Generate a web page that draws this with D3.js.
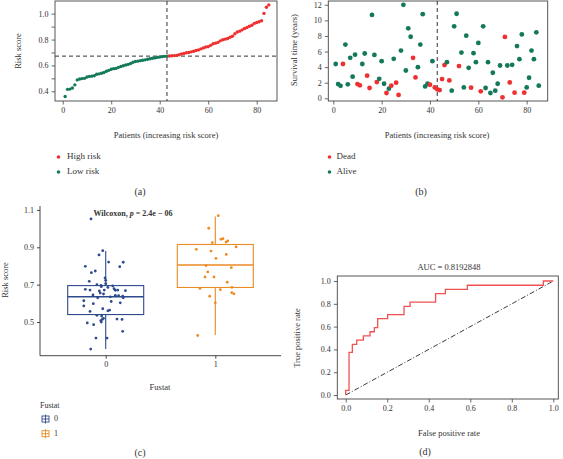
<!DOCTYPE html>
<html><head><meta charset="utf-8">
<script src="https://cdn.jsdelivr.net/npm/d3@7"></script>
<style>
html,body{margin:0;padding:0;background:#fff;}
svg text{font-family:"Liberation Serif","DejaVu Serif",serif;fill:#333;}
</style></head>
<body>
<svg id="c" width="563" height="459"></svg>
<script>
// ---------- DATA ----------
// (a) sorted risk scores, patients 1..85; cutoff after patient 43
const riskScores = [0.360,0.415,0.417,0.425,0.450,0.488,0.495,0.498,0.500,0.510,
0.515,0.517,0.520,0.532,0.535,0.540,0.545,0.555,0.562,0.570,
0.575,0.577,0.585,0.592,0.598,0.603,0.608,0.615,0.625,0.630,
0.633,0.637,0.640,0.643,0.648,0.652,0.655,0.658,0.662,0.665,
0.668,0.670,0.672,0.673,0.675,0.676,0.678,0.682,0.688,0.693,
0.698,0.700,0.705,0.710,0.715,0.720,0.728,0.735,0.742,0.745,
0.755,0.768,0.772,0.778,0.790,0.798,0.803,0.808,0.818,0.825,
0.845,0.858,0.865,0.875,0.885,0.893,0.903,0.910,0.925,0.932,
0.938,0.945,1.002,1.050,1.068];
const riskCutIndex = 43;
const riskCutValue = 0.672;
const riskLegend = ["High risk","Low risk"];

// (b) survival time (years) and status (1 = dead) for patients 1..85
const survTime = [4.4,1.83,1.6,4.4,6.9,1.8,5.2,2.77,5.6,1.83,
1.66,4.4,5.75,2.9,1.32,10.7,5.57,2.08,2.5,4.77,
1.87,0.68,1.23,1.62,5.06,2.0,0.43,6.13,12.0,3.57,
8.98,7.9,5.2,2.68,4.0,6.9,10.8,1.53,1.87,1.74,
4.77,1.4,1.15,1.06,2.47,4.26,4.64,2.3,0.98,9.23,
10.85,4.13,5.87,1.4,8.04,3.91,1.36,5.79,4.64,7.1,
0.9,9.23,1.32,4.64,0.68,3.28,0.98,1.87,4.21,0.13,
7.87,4.21,2.04,4.3,0.72,6.7,5.02,8.2,0.72,1.4,
2.64,6.13,5.02,8.47,1.62];
const survStatus = [0,0,0,1,0,0,0,0,0,1,
1,0,0,1,1,0,0,1,0,0,
0,1,0,1,0,1,1,0,0,0,
0,0,1,1,0,0,0,0,0,1,
0,1,1,1,1,1,0,1,0,0,
0,1,0,0,0,0,1,0,0,0,
1,0,0,0,0,0,0,0,0,1,
1,0,1,0,1,0,0,0,1,0,
0,0,0,0,0];
const survLegend = ["Dead","Alive"];

// (c) risk score by Fustat, with horizontal jitter offsets (category units)
const fustatCategories = ["0","1"];
const fustat0Values = [1.052,0.882,0.859,0.821,0.820,0.798,0.796,0.773,0.764,0.736,
0.723,0.718,0.700,0.696,0.689,0.693,0.675,0.671,0.666,0.671,
0.678,0.670,0.671,0.668,0.645,0.630,0.650,0.635,0.643,0.641,
0.638,0.630,0.614,0.603,0.598,0.586,0.571,0.564,0.557,0.536,
0.532,0.514,0.507,0.500,0.516,0.514,0.495,0.486,0.450,0.414,
0.414,0.355,0.520,0.560,0.610,0.655,0.685,0.705];
const fustat0Jitter = [-0.134,-0.027,-0.061,0.027,0.160,-0.186,0.128,-0.095,-0.131,-0.006,
0.000,-0.150,-0.080,-0.043,-0.040,0.064,-0.186,-0.143,-0.058,-0.013,
0.076,0.088,0.110,0.180,-0.116,-0.073,-0.020,0.042,0.088,0.118,
0.155,0.160,-0.200,0.133,-0.113,-0.200,-0.027,0.036,-0.143,-0.080,
-0.037,-0.031,-0.045,-0.040,0.103,0.149,-0.168,-0.110,0.155,-0.089,
0.012,-0.137,-0.020,0.020,0.050,-0.050,0.020,0.000];
const fustat1Values = [1.069,1.002,0.946,0.943,0.934,0.928,0.925,0.902,0.889,0.880,
0.862,0.841,0.802,0.791,0.768,0.741,0.741,0.713,0.686,0.680,
0.673,0.657,0.651,0.638,0.603,0.428];
const fustat1Jitter = [0.027,-0.060,0.070,0.052,0.113,0.098,-0.027,0.190,-0.173,-0.039,
0.100,0.006,-0.085,0.146,-0.069,-0.094,-0.012,0.109,0.152,-0.140,
0.046,0.150,0.170,-0.051,0.000,-0.160];
// box statistics: [lower whisker, Q1, median, Q3, upper whisker]
const fustatBoxStats = [[0.355,0.540,0.635,0.695,0.880],[0.430,0.685,0.805,0.915,1.065]];
const wilcoxText = "Wilcoxon, p = 2.4e \u2212 06";

// (d) ROC curve step points
const rocFPR = [0,0,0.016,0.016,0.032,0.032,0.053,0.053,0.085,0.085,0.117,0.117,0.138,0.138,0.154,0.154,0.202,0.202,0.281,0.281,0.310,0.310,0.433,0.433,0.480,0.480,0.586,0.586,0.952,0.952,1.0];
const rocTPR = [0,0.040,0.040,0.374,0.374,0.444,0.444,0.481,0.481,0.518,0.518,0.555,0.555,0.592,0.592,0.670,0.670,0.705,0.705,0.777,0.777,0.815,0.815,0.889,0.889,0.926,0.926,0.963,0.963,1.0,1.0];
const aucValue = "0.8192848";

// ---------- DRAWING ----------
const svg = d3.select("#c");
const RED = "#EE3030", GREEN = "#14795A", BLUE = "#2E4A8E", ORANGE = "#EC8A24", AXC = "#444";
const tickFont = 8, titleFont = 8.5;

function baseAxes(g, x, y, xTicks, yTicks, yLabelTicks, yFmt) {
  const [x0, x1] = x.range(), [y0, y1] = y.range();
  g.append("rect").attr("x", x0).attr("y", y1).attr("width", x1 - x0).attr("height", y0 - y1)
    .attr("fill", "none").attr("stroke", AXC).attr("stroke-width", 0.9);
  const xa = g.append("g").attr("transform", `translate(0,${y0})`)
    .call(d3.axisBottom(x).tickValues(xTicks).tickSize(3.5).tickPadding(3).tickFormat(d3.format("d")));
  const ya = g.append("g").attr("transform", `translate(${x0},0)`)
    .call(d3.axisLeft(y).tickValues(yTicks).tickSize(3.5).tickPadding(3)
      .tickFormat(d => yLabelTicks.some(v => Math.abs(v - d) < 1e-9) ? yFmt(d) : ""));
  [xa, ya].forEach(a => {
    a.select(".domain").remove();
    a.selectAll("line").attr("stroke", AXC).attr("stroke-width", 0.8);
    a.selectAll("text").attr("font-size", tickFont).attr("fill", "#333")
      .attr("font-family", '"Liberation Serif",serif');
  });
  return {xa, ya};
}

// ----- Panel (a) -----
{
  const g = svg.append("g");
  const x = d3.scaleLinear().domain([-3.18, 88.37]).range([55, 277]);
  const y = d3.scaleLinear().domain([0.325, 1.098]).range([101, 1]);
  baseAxes(g, x, y, [0,20,40,60,80], d3.range(0.4, 1.05, 0.1), [0.4,0.6,0.8,1.0], d3.format(".1f"));
  g.append("line").attr("x1", x(riskCutIndex)).attr("x2", x(riskCutIndex)).attr("y1", 1).attr("y2", 101)
    .attr("stroke", "#333").attr("stroke-width", 1).attr("stroke-dasharray", "4,3");
  g.append("line").attr("x1", 55).attr("x2", 277).attr("y1", y(riskCutValue)).attr("y2", y(riskCutValue))
    .attr("stroke", "#333").attr("stroke-width", 1).attr("stroke-dasharray", "4,3");
  g.selectAll("circle.r").data(riskScores).join("circle")
    .attr("cx", (d, i) => x(i + 1)).attr("cy", d => y(d)).attr("r", 1.7)
    .attr("fill", (d, i) => i + 1 > riskCutIndex ? RED : GREEN);
  g.append("text").attr("x", 19).attr("y", 51).attr("transform", "rotate(-90,19,51)")
    .attr("text-anchor", "middle").attr("dominant-baseline", "middle").attr("font-size", titleFont).text("Risk score");
  g.append("text").attr("x", 166).attr("y", 136).attr("text-anchor", "middle").attr("dominant-baseline", "middle")
    .attr("font-size", titleFont).text("Patients (increasing risk score)");
  riskLegend.forEach((t, i) => {
    g.append("circle").attr("cx", 58.5).attr("cy", 157 + i * 15).attr("r", 1.8).attr("fill", i === 0 ? RED : GREEN);
    g.append("text").attr("x", 67).attr("y", 157 + i * 15).attr("dominant-baseline", "middle")
      .attr("font-size", 9).text(t);
  });
  g.append("text").attr("x", 140).attr("y", 193).attr("text-anchor", "middle").attr("dominant-baseline", "middle")
    .attr("font-size", 10).text("(a)");
}

// ----- Panel (b) -----
{
  const g = svg.append("g");
  const x = d3.scaleLinear().domain([-2.07, 88.7]).range([328.3, 547.7]);
  const y = d3.scaleLinear().domain([-0.345, 12.485]).range([101, 1]);
  baseAxes(g, x, y, [0,20,40,60,80], [0,2,4,6,8,10,12], [0,2,4,6,8,10,12], d3.format("d"));
  g.append("line").attr("x1", x(riskCutIndex)).attr("x2", x(riskCutIndex)).attr("y1", 1).attr("y2", 101)
    .attr("stroke", "#333").attr("stroke-width", 1).attr("stroke-dasharray", "4,3");
  g.selectAll("circle.s").data(survTime).join("circle")
    .attr("cx", (d, i) => x(i + 1)).attr("cy", d => y(d)).attr("r", 2.4)
    .attr("fill", (d, i) => survStatus[i] === 1 ? RED : GREEN);
  g.append("text").attr("x", 295).attr("y", 50).attr("transform", "rotate(-90,295,50)")
    .attr("text-anchor", "middle").attr("dominant-baseline", "middle").attr("font-size", titleFont).text("Survival time (years)");
  g.append("text").attr("x", 437).attr("y", 136).attr("text-anchor", "middle").attr("dominant-baseline", "middle")
    .attr("font-size", titleFont).text("Patients (increasing risk score)");
  survLegend.forEach((t, i) => {
    g.append("circle").attr("cx", 329.5).attr("cy", 157 + i * 15).attr("r", 1.8).attr("fill", i === 0 ? RED : GREEN);
    g.append("text").attr("x", 336.5).attr("y", 157 + i * 15).attr("dominant-baseline", "middle")
      .attr("font-size", 9).text(t);
  });
  g.append("text").attr("x", 421).attr("y", 193).attr("text-anchor", "middle").attr("dominant-baseline", "middle")
    .attr("font-size", 10).text("(b)");
}

// ----- Panel (c) -----
{
  const g = svg.append("g");
  const catPos = d3.scalePoint().domain(fustatCategories).range([105.7, 215.3]);
  const unit = 215.3 - 105.7;
  const y = d3.scaleLinear().domain([0.3198, 1.121]).range([355.7, 206]);
  const cols = [BLUE, ORANGE];
  // axes
  const ya = g.append("g").attr("transform", "translate(40,0)")
    .call(d3.axisLeft(y).tickValues([0.5,0.7,0.9,1.1]).tickSize(3).tickPadding(3).tickFormat(d3.format(".1f")));
  ya.select(".domain").attr("d", `M0,${y.range()[1]}V${y.range()[0]}`);
  const xa = g.append("g").attr("transform", "translate(0,355.7)")
    .call(d3.axisBottom(catPos).tickSize(3).tickPadding(3));
  xa.select(".domain").attr("d", "M40,0H281");
  [xa, ya].forEach(a => {
    a.selectAll("line,path").attr("stroke", "#333").attr("stroke-width", 0.9);
    a.selectAll("text").attr("font-size", tickFont).attr("fill", "#333").attr("font-family", '"Liberation Serif",serif');
  });
  // boxes
  const bw = 76;
  fustatBoxStats.forEach((s, i) => {
    const cx = catPos(fustatCategories[i]);
    const bg = g.append("g").attr("stroke", cols[i]).attr("stroke-width", 1.1).attr("fill", "none");
    bg.append("line").attr("x1", cx).attr("x2", cx).attr("y1", y(s[0])).attr("y2", y(s[1]));
    bg.append("line").attr("x1", cx).attr("x2", cx).attr("y1", y(s[3])).attr("y2", y(s[4]));
    bg.append("rect").attr("x", cx - bw / 2).attr("width", bw).attr("y", y(s[3])).attr("height", y(s[1]) - y(s[3]));
    bg.append("line").attr("x1", cx - bw / 2).attr("x2", cx + bw / 2).attr("y1", y(s[2])).attr("y2", y(s[2])).attr("stroke-width", 1.6);
  });
  // jittered points
  const groups = [[fustat0Values, fustat0Jitter], [fustat1Values, fustat1Jitter]];
  groups.forEach(([vals, jit], i) => {
    const cx = catPos(fustatCategories[i]);
    g.selectAll(null).data(vals).join("circle")
      .attr("cx", (d, k) => cx + jit[k] * unit).attr("cy", d => y(d)).attr("r", 1.4).attr("fill", cols[i]);
  });
  // wilcoxon label
  const t = g.append("text").attr("x", 133).attr("y", 214).attr("text-anchor", "middle")
    .attr("dominant-baseline", "middle").attr("font-size", 8).attr("font-weight", "bold");
  const parts = wilcoxText.split("p = ");
  t.append("tspan").text(parts[0]);
  t.append("tspan").attr("font-style", "italic").text("p");
  t.append("tspan").text(" = " + parts[1]);
  g.append("text").attr("x", 6).attr("y", 280).attr("transform", "rotate(-90,6,280)")
    .attr("text-anchor", "middle").attr("dominant-baseline", "middle").attr("font-size", titleFont).text("Risk score");
  g.append("text").attr("x", 160).attr("y", 388).attr("text-anchor", "middle").attr("dominant-baseline", "middle")
    .attr("font-size", titleFont).text("Fustat");
  // legend
  g.append("text").attr("x", 40).attr("y", 406).attr("dominant-baseline", "middle").attr("font-size", 8).text("Fustat");
  fustatCategories.forEach((c, i) => {
    const ly = 419 + i * 14.7;
    const kg = g.append("g").attr("stroke", cols[i]).attr("stroke-width", 0.9).attr("fill", "none");
    kg.append("rect").attr("x", 42).attr("y", ly - 3).attr("width", 7).attr("height", 6);
    kg.append("line").attr("x1", 45.5).attr("x2", 45.5).attr("y1", ly - 4.5).attr("y2", ly + 4.5);
    kg.append("line").attr("x1", 42).attr("x2", 49).attr("y1", ly).attr("y2", ly);
    g.append("text").attr("x", 54).attr("y", ly).attr("dominant-baseline", "middle").attr("font-size", 8).text(c);
  });
  g.append("text").attr("x", 140).attr("y", 454).attr("text-anchor", "middle").attr("dominant-baseline", "middle")
    .attr("font-size", 10).text("(c)");
}

// ----- Panel (d) -----
{
  const g = svg.append("g");
  const x = d3.scaleLinear().domain([-0.0405, 1.024]).range([337.3, 558.3]);
  const y = d3.scaleLinear().domain([-0.035, 1.044]).range([399, 276]);
  const ticks = [0,0.2,0.4,0.6,0.8,1.0];
  const {xa} = baseAxes(g, x, y, ticks, ticks, ticks, d3.format(".1f"));
  xa.selectAll("text").text(d => d3.format(".1f")(d));
  g.append("line").attr("x1", x(0)).attr("y1", y(0)).attr("x2", x(1)).attr("y2", y(1))
    .attr("stroke", "#222").attr("stroke-width", 0.9).attr("stroke-dasharray", "5,2,1,2");
  g.append("path").datum(rocFPR.map((f, i) => [f, rocTPR[i]]))
    .attr("d", d3.line().x(d => x(d[0])).y(d => y(d[1])))
    .attr("fill", "none").attr("stroke", "#F05252").attr("stroke-width", 1.3);
  g.append("text").attr("x", 449).attr("y", 268).attr("text-anchor", "middle").attr("dominant-baseline", "middle")
    .attr("font-size", 8.5).text("AUC = " + aucValue);
  g.append("text").attr("x", 298).attr("y", 338).attr("transform", "rotate(-90,298,338)")
    .attr("text-anchor", "middle").attr("dominant-baseline", "middle").attr("font-size", titleFont).text("True positive rate");
  g.append("text").attr("x", 449).attr("y", 434).attr("text-anchor", "middle").attr("dominant-baseline", "middle")
    .attr("font-size", titleFont).text("False positive rate");
  g.append("text").attr("x", 425).attr("y", 453).attr("text-anchor", "middle").attr("dominant-baseline", "middle")
    .attr("font-size", 10).text("(d)");
}
</script>
</body></html>
